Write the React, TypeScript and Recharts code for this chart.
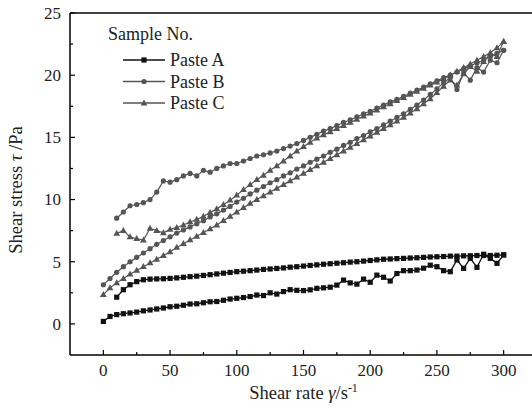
import { LineChart, Line, XAxis, YAxis, Legend, ReferenceLine, Label } from "recharts"

// shear rate steps: up ramp 0 -> 300, down ramp 300 -> 10
const rateUp = [
  0, 5, 10, 15, 20, 25, 30, 35, 40, 45, 50, 55, 60, 65, 70, 75, 80, 85, 90, 95, 100,
  105, 110, 115, 120, 125, 130, 135, 140, 145, 150, 155, 160, 165, 170, 175, 180, 185, 190, 195, 200,
  205, 210, 215, 220, 225, 230, 235, 240, 245, 250, 255, 260, 265, 270, 275, 280, 285, 290, 295, 300,
]
const rateDown = [
  300, 295, 290, 285, 280, 275, 270, 265, 260, 255, 250, 245, 240, 235, 230, 225, 220, 215, 210, 205,
  200, 195, 190, 185, 180, 175, 170, 165, 160, 155, 150, 145, 140, 135, 130, 125, 120, 115, 110, 105,
  100, 95, 90, 85, 80, 75, 70, 65, 60, 55, 50, 45, 40, 35, 30, 25, 20, 15, 10,
]

const pasteAUp = [
  0.2, 0.6, 0.75, 0.82, 0.88, 0.95, 1.05, 1.12, 1.2, 1.28, 1.38, 1.42, 1.5, 1.6, 1.62, 1.7, 1.78, 1.8, 1.9, 2.0, 2.06,
  2.12, 2.2, 2.32, 2.28, 2.5, 2.4, 2.6, 2.75, 2.7, 2.68, 2.74, 2.86, 2.9, 2.95, 3.12, 3.52, 3.3, 3.2, 3.6, 3.35,
  3.92, 3.75, 3.45, 4.05, 4.28, 4.28, 4.33, 4.48, 4.72, 4.6, 4.28, 4.2, 5.14, 4.47, 5.27, 4.55, 5.6, 5.27, 4.87, 5.55,
]
const pasteADown = [
  5.55, 5.52, 5.5, 5.5, 5.5, 5.48, 5.47, 5.45, 5.45, 5.42, 5.4, 5.38, 5.35, 5.32, 5.3, 5.27, 5.25, 5.22, 5.2, 5.15,
  5.1, 5.05, 5.0, 4.97, 4.92, 4.88, 4.84, 4.8, 4.75, 4.7, 4.65, 4.6, 4.56, 4.5, 4.46, 4.42, 4.38, 4.33, 4.28, 4.24,
  4.2, 4.14, 4.08, 4.02, 3.96, 3.9, 3.84, 3.8, 3.75, 3.7, 3.66, 3.63, 3.62, 3.6, 3.55, 3.4, 3.15, 2.75, 2.15,
]

const pasteBUp = [
  3.15, 3.65, 4.15, 4.6, 5.0, 5.35, 5.7, 6.05, 6.4, 6.7, 7.0, 7.3, 7.55, 7.8, 8.05, 8.3, 8.6, 8.85, 9.15, 9.45, 9.8,
  10.1, 10.45, 10.75, 11.05, 11.35, 11.6, 11.9, 12.15, 12.45, 12.7, 13.0, 13.25, 13.5, 13.8, 14.05, 14.35, 14.6, 14.9, 15.15, 15.45,
  15.7, 16.0, 16.3, 16.6, 16.9, 17.25, 17.6, 18.0, 18.45, 18.9, 19.4, 19.8, 18.85, 20.2, 19.6, 20.6, 20.25, 21.2, 21.0, 22.0,
]
const pasteBDown = [
  22.0, 21.75, 21.5, 21.2, 21.0, 20.75, 20.5, 20.25, 20.0, 19.8, 19.55, 19.3, 19.05, 18.8, 18.55, 18.3, 18.05, 17.85, 17.6, 17.35,
  17.1, 16.9, 16.65, 16.4, 16.2, 15.95, 15.7, 15.5, 15.25, 15.0, 14.75, 14.5, 14.3, 14.1, 13.9, 13.75, 13.6, 13.5, 13.3, 13.1,
  12.9, 12.9, 12.7, 12.5, 12.2, 12.35, 11.9, 12.1, 11.9, 11.6, 11.4, 11.5, 10.6, 10.0, 9.75, 9.6, 9.5, 9.0, 8.5,
]

const pasteCUp = [
  2.35, 2.9, 3.3, 3.65, 4.0, 4.3, 4.6, 4.9, 5.2, 5.5, 5.8, 6.15, 6.45, 6.75, 7.05, 7.35, 7.65, 7.95, 8.3, 8.65, 9.0,
  9.35, 9.7, 10.0, 10.3, 10.6, 10.9, 11.2, 11.5, 11.8, 12.1, 12.4, 12.7, 13.0, 13.3, 13.6, 13.9, 14.2, 14.5, 14.8, 15.1,
  15.4, 15.7, 16.0, 16.3, 16.6, 16.95, 17.3, 17.7, 18.1, 18.6, 19.1, 19.6, 19.2, 20.1, 20.7, 20.3, 21.1, 21.7, 21.5, 22.7,
]
const pasteCDown = [
  22.7, 22.2, 21.8, 21.5, 21.2, 20.9, 20.6, 20.3, 20.0, 19.7, 19.45, 19.2, 18.95, 18.7, 18.45, 18.2, 17.95, 17.7, 17.45, 17.2,
  16.95, 16.7, 16.45, 16.2, 15.95, 15.7, 15.45, 15.2, 14.95, 14.6, 14.25, 13.9, 13.5, 13.1, 12.7, 12.35, 11.95, 11.6, 11.2, 10.8,
  10.35, 9.95, 9.6, 9.25, 8.95, 8.65, 8.4, 8.2, 7.95, 7.75, 7.6, 7.33, 7.5, 7.68, 6.74, 6.85, 7.0, 7.5, 7.28,
]

const xTicks = [0, 25, 50, 75, 100, 125, 150, 175, 200, 225, 250, 275, 300]
const yTicks = [0, 2.5, 5, 7.5, 10, 12.5, 15, 17.5, 20, 22.5, 25]

const FONT = "'Liberation Serif', 'Times New Roman', serif"
const DARK = "#111"
const GREY = "#555"

const loop = (up: number[], down: number[]) => [
  ...rateUp.map((rate, i) => ({ rate, stress: up[i] })),
  ...rateDown.map((rate, i) => ({ rate, stress: down[i] })),
]

const dataA = loop(pasteAUp, pasteADown)
const dataB = loop(pasteBUp, pasteBDown)
const dataC = loop(pasteCUp, pasteCDown)

function marker(shape: string, cx: number, cy: number, color: string, key?: string) {
  if (shape === "square") {
    return <rect key={key} x={cx - 2.6} y={cy - 2.6} width={5.2} height={5.2} fill={color} />
  }
  if (shape === "circle") {
    return <circle key={key} cx={cx} cy={cy} r={2.6} fill={color} />
  }
  return (
    <path key={key} d={`M${cx},${cy - 3.6} L${cx + 3.4},${cy + 2.4} L${cx - 3.4},${cy + 2.4} Z`} fill={color} />
  )
}

const dotFor = (shape: string, color: string) => (props: any) =>
  marker(shape, props.cx, props.cy, color, `${shape}-${props.index}`)

const pastes = [
  { name: "Paste A", shape: "square", color: DARK },
  { name: "Paste B", shape: "circle", color: GREY },
  { name: "Paste C", shape: "triangle", color: GREY },
]

const XTick = (props: any) => {
  const { x, y, payload } = props
  const major = payload.value % 50 === 0
  return (
    <g>
      <line x1={x} x2={x} y1={y} y2={y - (major ? 5 : 3)} stroke="#000" strokeWidth={1.2} />
      {major && (
        <text x={x} y={y + 21} textAnchor="middle" fontSize={17} fontFamily={FONT} fill="#222">
          {payload.value}
        </text>
      )}
    </g>
  )
}

const YTick = (props: any) => {
  const { x, y, payload } = props
  const major = payload.value % 5 === 0
  return (
    <g>
      <line x1={x} x2={x + (major ? 5 : 3)} y1={y} y2={y} stroke="#000" strokeWidth={1.2} />
      {major && (
        <text x={x - 9} y={y} dy="0.35em" textAnchor="end" fontSize={17} fontFamily={FONT} fill="#222">
          {payload.value}
        </text>
      )}
    </g>
  )
}

const YTitle = (props: any) => {
  const vb = props.viewBox || { x: 0, y: 13, height: 342 }
  const cx = vb.x + 16
  const cy = 190
  return (
    <text
      x={cx}
      y={cy}
      transform={`rotate(-90 ${cx} ${cy})`}
      textAnchor="middle"
      dominantBaseline="central"
      fontSize={18.5}
      fontFamily={FONT}
      fill="#222"
    >
      Shear stress <tspan fontStyle="italic">τ</tspan> /Pa
    </text>
  )
}

const XTitle = (props: any) => {
  const vb = props.viewBox || { x: 70, width: 467, y: 355 }
  const cx = vb.x + vb.width / 2
  return (
    <text x={cx} y={399} textAnchor="middle" fontSize={18.5} fontFamily={FONT} fill="#222">
      Shear rate <tspan fontStyle="italic">γ</tspan>/s
      <tspan dy={-7} fontSize={12}>-1</tspan>
    </text>
  )
}

const renderLegend = () => (
  <svg width={170} height={100} style={{ display: "block" }}>
    <text x={8} y={22} fontSize={18} fontFamily={FONT} fill="#222">
      Sample No.
    </text>
    {pastes.map((p, i) => {
      const ly = 42 + i * 21.5
      return (
        <g key={p.name}>
          <line x1={23} x2={65} y1={ly} y2={ly} stroke={p.color} strokeWidth={1.3} />
          {marker(p.shape, 44, ly, p.color)}
          <text x={70} y={ly + 6} fontSize={18} fontFamily={FONT} fill="#222">
            {p.name}
          </text>
        </g>
      )
    })}
  </svg>
)

export default function App() {
  return (
    <div
      style={{
        position: "absolute",
        left: 0,
        top: 0,
        width: 532,
        height: 416,
        overflow: "hidden",
        background: "#fff",
      }}
    >
      <LineChart width={537} height={416} margin={{ top: 13, right: 0, bottom: 0, left: 0 }}>
        <XAxis
          dataKey="rate"
          type="number"
          domain={[-25, 325]}
          ticks={xTicks}
          interval={0}
          height={61}
          tickSize={0}
          tickMargin={0}
          tickLine={false}
          tick={<XTick />}
          axisLine={{ stroke: "#000", strokeWidth: 1.5 }}
        >
          <Label content={<XTitle />} />
        </XAxis>
        <YAxis
          type="number"
          domain={[-2.5, 25]}
          ticks={yTicks}
          interval={0}
          width={70}
          tickSize={0}
          tickMargin={0}
          tickLine={false}
          tick={<YTick />}
          axisLine={{ stroke: "#000", strokeWidth: 1.5 }}
        >
          <Label content={<YTitle />} />
        </YAxis>
        <ReferenceLine y={25} stroke="#000" strokeWidth={1.5} />
        <Legend
          layout="vertical"
          verticalAlign="middle"
          align="center"
          content={renderLegend}
          wrapperStyle={{ position: "absolute", left: 100, top: 18, width: 170, height: 100 }}
        />
        <Line
          data={dataA}
          dataKey="stress"
          name="Paste A"
          stroke={DARK}
          strokeWidth={1.3}
          dot={dotFor("square", DARK)}
          activeDot={false}
          isAnimationActive={false}
        />
        <Line
          data={dataB}
          dataKey="stress"
          name="Paste B"
          stroke={GREY}
          strokeWidth={1.2}
          dot={dotFor("circle", GREY)}
          activeDot={false}
          isAnimationActive={false}
        />
        <Line
          data={dataC}
          dataKey="stress"
          name="Paste C"
          stroke={GREY}
          strokeWidth={1.2}
          dot={dotFor("triangle", GREY)}
          activeDot={false}
          isAnimationActive={false}
        />
      </LineChart>
    </div>
  )
}
